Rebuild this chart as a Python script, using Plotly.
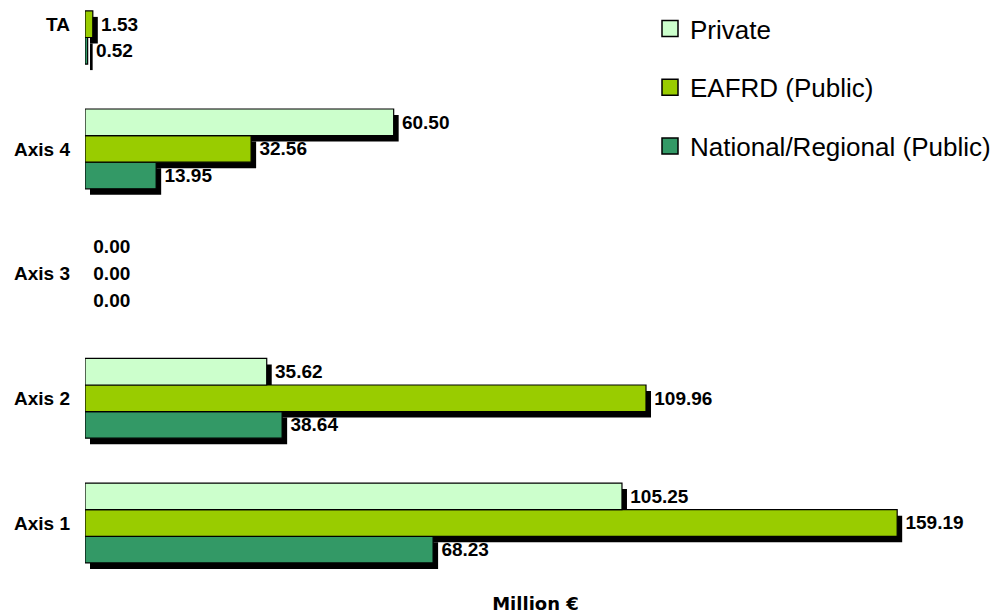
import plotly.graph_objects as go

categories = ["Axis 1", "Axis 2", "Axis 3", "Axis 4", "TA"]
private = [105.25, 35.62, 0.00, 60.50, None]
eafrd = [159.19, 109.96, 0.00, 32.56, 1.53]
national = [68.23, 38.64, 0.00, 13.95, 0.52]

series = [
    ("National/Regional (Public)", national, "#339966"),
    ("EAFRD (Public)", eafrd, "#99CC00"),
    ("Private", private, "#CCFFCC"),
]
legend_order = ["Private", "EAFRD (Public)", "National/Regional (Public)"]

W, H = 996, 614
M = dict(l=85, r=10, t=0, b=45)
plot_w = W - M["l"] - M["r"]
plot_h = H - M["t"] - M["b"]
x_range = [0, 176.6]
y_range = [-0.369, 4.194]
dx = 5 * (x_range[1] - x_range[0]) / plot_w
dy = 6 * (y_range[1] - y_range[0]) / plot_h

fig = go.Figure()
# shadows (base axes, shifted range)
for name, vals, col in series:
    fig.add_trace(go.Bar(
        y=categories, x=vals, orientation="h", name=name,
        marker=dict(color="black", line=dict(width=0)),
        showlegend=False, hoverinfo="skip", xaxis="x", yaxis="y",
    ))
# real bars (overlay axes)
for name, vals, col in series:
    lw = [0 if (v is None or v == 0) else 1.2 for v in vals]
    fig.add_trace(go.Bar(
        y=categories, x=vals, orientation="h", name=name,
        marker=dict(color=col, line=dict(color="black", width=lw)),
        texttemplate=" %{x:.2f}", textposition="outside",
        textfont=dict(family="Liberation Sans, Arial", size=19, color="black", weight="bold"),
        constraintext="none", cliponaxis=False, showlegend=False,
        xaxis="x2", yaxis="y2",
    ))
# legend entries
colors = {n: c for n, _, c in series}
for rank, name in enumerate(legend_order):
    fig.add_trace(go.Scatter(
        x=[None], y=[None], mode="markers", name=name,
        marker=dict(symbol="square", size=16, color=colors[name], line=dict(color="black", width=1.5)),
        legendgroup=name, legendrank=rank + 1, xaxis="x2", yaxis="y2",
    ))

fig.update_layout(
    width=W, height=H, margin=M,
    paper_bgcolor="white", plot_bgcolor="rgba(0,0,0,0)",
    barmode="group", bargap=0.36, bargroupgap=0,
    showlegend=True,
    legend=dict(
        x=(650 - M["l"]) / plot_w, y=1 - 5 / plot_h, xanchor="left", yanchor="top",
        traceorder="grouped", tracegroupgap=22, itemsizing="trace",
        font=dict(family="Liberation Sans, Arial", size=26, color="black"),
        bgcolor="rgba(0,0,0,0)",
    ),
    xaxis=dict(range=[x_range[0] - dx, x_range[1] - dx], showgrid=False, zeroline=False,
               showticklabels=False, showline=False, ticks="",
               title=dict(text="Million €", standoff=28,
                          font=dict(family="DejaVu Sans", size=18, color="black", weight="bold"))),
    yaxis=dict(range=[y_range[0] + dy, y_range[1] + dy], type="category",
               categoryorder="array", categoryarray=categories,
               showgrid=False, zeroline=False, showticklabels=False, showline=False, ticks=""),
    xaxis2=dict(range=x_range, overlaying="x", anchor="y2", showgrid=False, zeroline=False,
                showticklabels=False, showline=False, ticks=""),
    yaxis2=dict(range=y_range, overlaying="y", anchor="x2", type="category",
                categoryorder="array", categoryarray=categories, side="left",
                showgrid=False, zeroline=False, showline=False, ticks="",
                ticklabelstandoff=14, automargin=False,
                tickfont=dict(family="Liberation Sans, Arial", size=19, color="black", weight="bold")),
    hovermode=False,
)

fig.write_html("out.html", config={"displayModeBar": False},
               post_script="document.body.style.margin='0';")
